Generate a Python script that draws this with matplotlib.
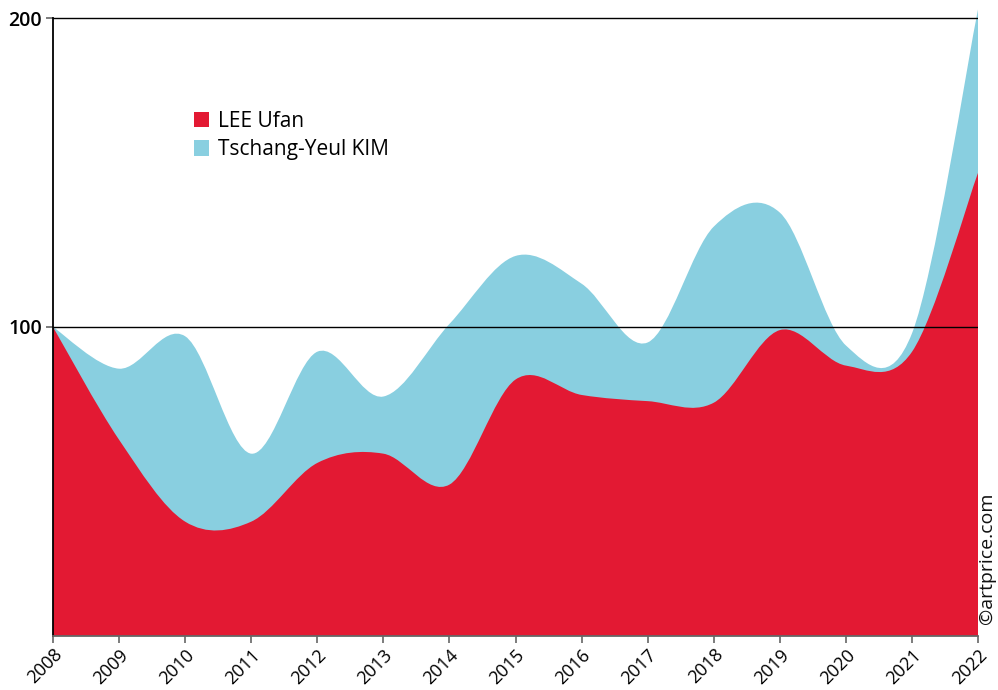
import numpy as np
import matplotlib
matplotlib.use('Agg')
import matplotlib.pyplot as plt
import matplotlib.transforms as mtransforms
from matplotlib.path import Path
from matplotlib.patches import PathPatch, Patch

plt.rcParams['font.family'] = ['Open Sans', 'DejaVu Sans']

# index, base 100 in 2008
years = [2008, 2009, 2010, 2011, 2012, 2013, 2014, 2015,
         2016, 2017, 2018, 2019, 2020, 2021, 2022]
lee_ufan = [100, 63.5, 37, 37, 56, 59, 49, 83, 78, 76, 75.5, 99, 87.5, 92, 150]
kim = [100, 86.5, 97, 59, 92, 77.5, 101, 123, 114, 95, 132.5, 137, 94, 98, 203]

labels = ['LEE Ufan', 'Tschang-Yeul KIM']
colors = ['#e31933', '#89cfe0']
y_ticks = [100, 200]


def spline_area(x, y):
    # cardinal (catmull-rom) curve as bezier segments, closed down to zero
    x = np.asarray(x, float)
    y = np.asarray(y, float)
    n = len(x)
    verts = [(x[0], 0), (x[0], y[0])]
    codes = [Path.MOVETO, Path.LINETO]
    for i in range(n - 1):
        a = max(i - 1, 0)
        b = min(i + 2, n - 1)
        c1 = (x[i] + (x[i + 1] - x[a]) / 6, y[i] + (y[i + 1] - y[a]) / 6)
        c2 = (x[i + 1] - (x[b] - x[i]) / 6, y[i + 1] - (y[b] - y[i]) / 6)
        verts += [c1, c2, (x[i + 1], y[i + 1])]
        codes += [Path.CURVE4] * 3
    verts += [(x[-1], 0), (x[0], 0)]
    codes += [Path.LINETO, Path.CLOSEPOLY]
    return Path(verts, codes)


fig = plt.figure(figsize=(9.98, 6.90), dpi=100)
ax = fig.add_axes([0.0531, 0.0783, 0.927, 0.918])

ax.add_patch(PathPatch(spline_area(years, kim), fc=colors[1], ec='none', zorder=1))
ax.add_patch(PathPatch(spline_area(years, lee_ufan), fc=colors[0], ec='none', zorder=2))

for v in y_ticks:
    ax.axhline(v, color='black', lw=1, zorder=3)

ax.set_xlim(years[0], years[-1])
ax.set_ylim(0, 205)
ax.set_xticks(years)
ax.set_xticklabels([str(y) for y in years], rotation=45, ha='right',
                   rotation_mode='anchor', fontsize=13)
# labels sit a bit right of their ticks
shift = mtransforms.ScaledTranslation(0.12, -0.02, fig.dpi_scale_trans)
for lab in ax.get_xticklabels():
    lab.set_transform(lab.get_transform() + shift)
ax.set_yticks(y_ticks)
ax.set_yticklabels([str(v) for v in y_ticks], fontsize=14, fontweight='semibold')

for s in ['top', 'right']:
    ax.spines[s].set_visible(False)
ax.spines['left'].set_bounds(0, 200)
ax.spines['left'].set_color('black')
ax.spines['left'].set_linewidth(1.3)
ax.spines['bottom'].set_color('#666666')
ax.spines['bottom'].set_linewidth(1.3)
ax.tick_params(axis='both', color='#666666', length=5, width=1.2, pad=3)
ax.tick_params(axis='x', pad=2)

handles = [Patch(fc=c, ec='none') for c in colors]
ax.legend(handles, labels, loc='upper left', bbox_to_anchor=(0.152, 0.829),
          frameon=False, fontsize=15, handlelength=0.75, handleheight=0.75,
          handletextpad=0.4, labelspacing=0.36, borderpad=0, borderaxespad=0)

fig.text(0.989, 0.095, '©artprice.com', rotation=90, ha='center', va='bottom',
         fontsize=14, color='#111111')

fig.savefig('out.png', dpi=100)
